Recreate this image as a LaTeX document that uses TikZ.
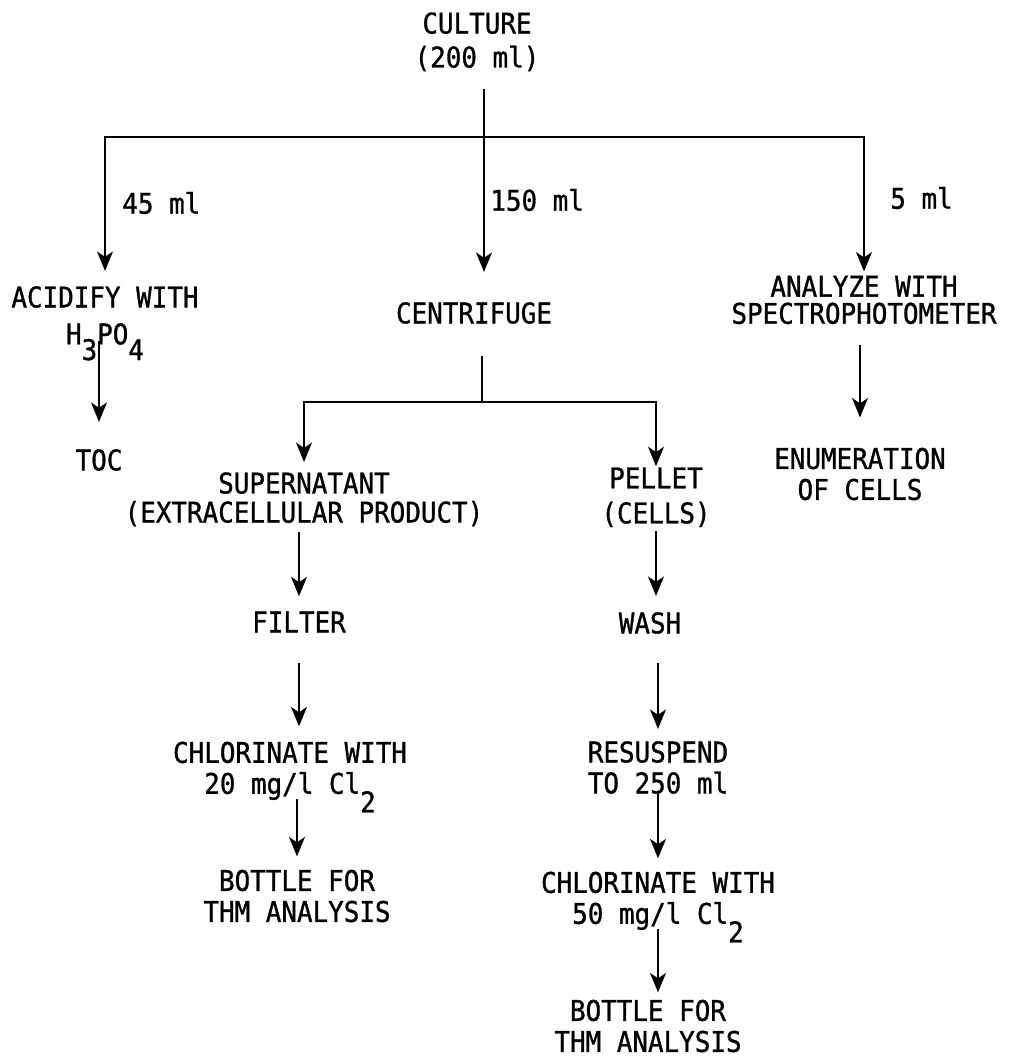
\documentclass[tikz,border=0pt]{standalone}
\usepackage{fontspec}
\usepackage{tikz}
\usetikzlibrary{arrows.meta}
\newfontfamily\flowfont[FakeStretch=0.91,FakeBold=1]{DejaVu Sans Mono}
\newdimen\pxu
\pxu=0.02cm
% lowered digits as the typewriter sets them
\newcommand\dn[2][0.55em]{\raisebox{-#1}[0pt][0pt]{#2}}

\begin{document}
\begin{tikzpicture}[x=0.02cm,y=-0.02cm,
  proc/.style={align=center,inner sep=0pt,font=\flowfont\fontsize{16.2}{17.64}\selectfont},
  vol/.style={proc,anchor=west},
  link/.style={line width=1.4pt},
  flow/.style={link,-{Stealth[length=11pt,width=9pt,inset=3pt]}}]
  \useasboundingbox (0,0) rectangle (1010,1056);

  % top level
  \node[proc] (culture) at (477,41.8) {CULTURE\\[1.7pt](200 ml)};
  \coordinate (split) at (484,137);
  \node[proc] (acid) at (105,315.5) {ACIDIFY WITH\\[3.4pt]H\dn{3}PO\dn{4}};
  \node[proc] (centri) at (474,313) {CENTRIFUGE};
  \node[proc] (analyze) at (864,300) {ANALYZE WITH\\[-2.2pt]SPECTROPHOTOMETER};
  \node[vol] (v45) at (122,203) {45 ml};
  \node[vol] (v150) at (490,200) {150 ml};
  \node[vol] (v5) at (890,198) {5 ml};

  \draw[link,shorten <=17\pxu] (culture.south -| split) -- (split);
  \draw[flow,shorten >=15\pxu] (split) -| (acid.north);
  \draw[flow,shorten >=30\pxu] (split) -- (split |- centri.north);
  \draw[flow,shorten >=4\pxu] (split) -| (analyze.north);

  % second level
  \node[proc] (toc) at (99,460) {TOC};
  \node[proc] (enum) at (860,474) {ENUMERATION\\OF CELLS};
  \coordinate (split2) at (482,402);
  \node[proc] (super) at (304,499.3) {SUPERNATANT\\[-1.1pt](EXTRACELLULAR PRODUCT)};
  \node[proc] (pellet) at (656,497.3) {PELLET\\[2.3pt](CELLS)};

  \draw[flow,shorten <=-4\pxu,shorten >=27\pxu] (acid.south -| toc) -- (toc.north);
  \draw[flow,shorten <=20\pxu,shorten >=30\pxu] (analyze.south -| enum) -- (enum.north);
  \draw[link,shorten <=32\pxu] (centri.south -| split2) -- (split2);
  \draw[flow,shorten >=10\pxu] (split2) -| (super.north);
  \draw[flow,shorten >=1\pxu] (split2) -| (pellet.north);

  % supernatant branch
  \node[proc] (filter) at (299,622) {FILTER};
  \node[proc] (chlor1) at (290,770.8) {CHLORINATE WITH\\20 mg/l Cl\dn[0.65em]{2}};
  \node[proc] (bottle1) at (297,896) {BOTTLE FOR\\THM ANALYSIS};

  \draw[flow,shorten <=5\pxu,shorten >=15\pxu] (super.south -| filter) -- (filter.north);
  \draw[flow,shorten <=30\pxu,shorten >=15\pxu] (filter.south) -- (filter.south |- chlor1.north);
  \draw[flow,shorten <=-1\pxu,shorten >=13\pxu] (chlor1.south -| bottle1) -- (bottle1.north);

  % pellet branch
  \node[proc] (wash) at (650,623) {WASH};
  \node[proc] (resus) at (658,767.5) {RESUSPEND\\TO 250 ml};
  \node[proc] (chlor2) at (658,900.8) {CHLORINATE WITH\\50 mg/l Cl\dn[0.65em]{2}};
  \node[proc] (bottle2) at (648,1026) {BOTTLE FOR\\THM ANALYSIS};

  \draw[flow,shorten <=4\pxu,shorten >=16\pxu] (pellet.south) -- (pellet.south |- wash.north);
  \draw[flow,shorten <=29\pxu,shorten >=12\pxu] (wash.south -| resus) -- (resus.north);
  \draw[flow,shorten >=13\pxu] (resus.south) -- (resus.south |- chlor2.north);
  \draw[flow,shorten <=-1\pxu,shorten >=7\pxu] (chlor2.south) -- (chlor2.south |- bottle2.north);
\end{tikzpicture}
\end{document}
